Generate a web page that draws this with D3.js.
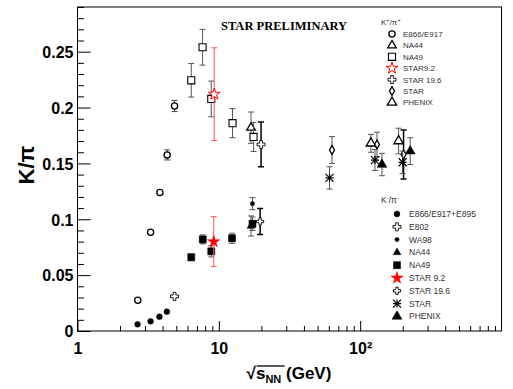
<!DOCTYPE html>
<html>
<head>
<meta charset="utf-8">
<script src="https://cdn.jsdelivr.net/npm/d3@7"></script>
<style>
body { margin: 0; background: #fff; }
svg { display: block; font-family: "Liberation Sans", Arial, sans-serif; }
</style>
</head>
<body>
<svg id="chart" width="513" height="389"></svg>
<script>
// values: [sqrt(sNN) GeV, ratio, error]
// K+/pi+
var kpE866 = [[2.67, 0.0275, 0], [3.29, 0.0884, 0], [3.83, 0.124, 0], [4.31, 0.1576, 0.0045], [4.86, 0.2014, 0.005]];
var kpNA44 = [[16.9, 0.182, 0.014]];
var kpNA49 = [[6.38, 0.2244, 0.015], [7.67, 0.254, 0.016], [8.84, 0.2077, 0.016], [12.5, 0.186, 0.013], [17.6, 0.1737, 0.013]];
var kpStar92 = [[9.28, 0.212, 0.0415]];
var kpStar196 = [[19.9, 0.167, 0.020]];
var kpStar = [[63.2, 0.162, 0.012], [131.5, 0.167, 0.011], [202.8, 0.158, 0.022]];
var kpPhenix = [[119.2, 0.168, 0.008], [187, 0.170, 0.0115]];
// K-/pi-
var kmE866 = [[2.66, 0.006, 0], [3.29, 0.0087, 0], [3.80, 0.0128, 0], [4.29, 0.0173, 0]];
var kmE802 = [[4.86, 0.031, 0]];
var kmWA98 = [[17.3, 0.114, 0.0054]];
var kmNA44 = [[16.9, 0.094, 0.009]];
var kmNA49 = [[6.38, 0.066, 0.003], [7.7, 0.082, 0.004], [8.84, 0.0713, 0.005], [12.4, 0.083, 0.0045], [17.3, 0.096, 0.006]];
var kmStar92 = [[9.2, 0.080, 0.0224]];
var kmStar196 = [[19.6, 0.098, 0.0116]];
var kmStar = [[60.7, 0.137, 0.010], [127.3, 0.153, 0.0093], [199.6, 0.151, 0.010]];
var kmPhenix = [[142.6, 0.149, 0.010], [226, 0.161, 0.012]];

var kpLabels = ["E866/E917", "NA44", "NA49", "STAR9.2", "STAR 19.6", "STAR", "PHENIX"];
var kmLabels = ["E866/E917+E895", "E802", "WA98", "NA44", "NA49", "STAR 9.2", "STAR 19.6", "STAR", "PHENIX"];

var xMajor = [1, 10, 100];
var xMajorLabels = ["1", "10", "10\u00b2"];
var yMajor = [0, 0.05, 0.1, 0.15, 0.2, 0.25];
var yMajorLabels = ["0", "0.05", "0.1", "0.15", "0.2", "0.25"];

var svg = d3.select("#chart");
var x = d3.scaleLog().domain([1, 1000]).range([77.5, 501.5]);
var y = d3.scaleLinear().domain([0, 0.29]).range([331, 7]);

// series table: marker style + error bar colour
var kpSeries = [
    {data: kpE866, m: "ocircle", c: "#000", e: "#444"},
    {data: kpNA44, m: "otri", c: "#000", e: "#555"},
    {data: kpNA49, m: "osquare", c: "#000", e: "#555"},
    {data: kpStar92, m: "ostar", c: "#f00", e: "#f55"},
    {data: kpStar196, m: "ocross", c: "#000", e: "#000", w: 1.5},
    {data: kpStar, m: "odiamond", c: "#000", e: "#555"},
    {data: kpPhenix, m: "obtri", c: "#000", e: "#555"}
];
var kmSeries = [
    {data: kmE866, m: "fcircle", c: "#000", e: "#444"},
    {data: kmE802, m: "ocross", c: "#000", e: "#555"},
    {data: kmWA98, m: "scircle", c: "#000", e: "#555"},
    {data: kmNA44, m: "ftri", c: "#000", e: "#555"},
    {data: kmNA49, m: "fsquare", c: "#000", e: "#555"},
    {data: kmStar92, m: "fstar", c: "#f00", e: "#f55"},
    {data: kmStar196, m: "scross", c: "#000", e: "#000", w: 1.5},
    {data: kmStar, m: "aster", c: "#000", e: "#555"},
    {data: kmPhenix, m: "fbtri", c: "#000", e: "#555"}
];
// the big STAR 200 GeV bar is drawn black and thicker
kpSeries[5].thick = [false, false, true];

function drawMarker(g, type, cx, cy, col) {
    var sym = null, size = 0, open = type.charAt(0) == "o", sw = 1.3;
    if (type == "ocircle") { sym = d3.symbolCircle; size = 30; }
    if (type == "fcircle") { sym = d3.symbolCircle; size = 26; }
    if (type == "scircle") { sym = d3.symbolCircle; size = 14; }
    if (type == "osquare") { sym = d3.symbolSquare; size = 50; sw = 1.1; }
    if (type == "fsquare") { sym = d3.symbolSquare; size = 50; }
    if (type == "otri") { sym = d3.symbolTriangle; size = 32; }
    if (type == "obtri") { sym = d3.symbolTriangle; size = 38; }
    if (type == "ftri") { sym = d3.symbolTriangle; size = 26; }
    if (type == "fbtri") { sym = d3.symbolTriangle; size = 42; }
    if (type == "ostar") { sym = d3.symbolStar; size = 42; sw = 1; }
    if (type == "fstar") { sym = d3.symbolStar; size = 46; }
    if (type == "ocross") { sym = d3.symbolCross; size = 36; sw = 0.9; }
    if (type == "scross") { sym = d3.symbolCross; size = 28; open = true; sw = 0.9; }
    if (type == "odiamond") { sym = d3.symbolDiamond; size = 22; }
    if (type == "aster") {
        var r = 4;
        g.append("path")
            .attr("d", "M" + (cx - r) + "," + cy + "H" + (cx + r) +
                "M" + (cx - r) + "," + (cy - r) + "L" + (cx + r) + "," + (cy + r) +
                "M" + (cx - r) + "," + (cy + r) + "L" + (cx + r) + "," + (cy - r) +
                "M" + cx + "," + (cy - r) + "V" + (cy + r))
            .attr("stroke", col).attr("stroke-width", 1.2).attr("fill", "none");
        return;
    }
    g.append("path")
        .attr("d", d3.symbol().type(sym).size(size)())
        .attr("transform", "translate(" + cx + "," + cy + ")")
        .attr("fill", open ? "#fff" : col)
        .attr("stroke", col)
        .attr("stroke-width", open ? sw : 0.5);
}

function drawSeries(s) {
    var g = svg.append("g");
    s.data.forEach(function(d, i) {
        var px = x(d[0]);
        if (d[2] > 0) {
            var big = s.thick && s.thick[i];
            var col = big ? "#000" : s.e;
            var w = big ? 1.5 : (s.w || 1);
            var y1 = y(d[1] + d[2]), y2 = y(d[1] - d[2]);
            g.append("path")
                .attr("d", "M" + px + "," + y1 + "V" + y2 +
                    "M" + (px - 3) + "," + y1 + "H" + (px + 3) +
                    "M" + (px - 3) + "," + y2 + "H" + (px + 3))
                .attr("stroke", col).attr("stroke-width", w).attr("fill", "none");
        }
    });
    s.data.forEach(function(d) {
        drawMarker(g, s.m, x(d[0]), y(d[1]), s.c);
    });
}

// axes: minor ticks, then majors with labels
var xMinor = [];
[1, 10, 100].forEach(function(dec) {
    for (var k = 2; k <= 9; k++) xMinor.push(dec * k);
});
var yMinor = d3.range(0, 0.2901, 0.01).filter(function(v) {
    return Math.abs(v / 0.05 - Math.round(v / 0.05)) > 1e-6;
});

var xAxisG = svg.append("g").attr("transform", "translate(0,331)");
xAxisG.append("g").call(d3.axisBottom(x).tickValues(xMinor).tickSize(-5).tickFormat(""));
xAxisG.append("g").call(d3.axisBottom(x).tickValues(xMajor).tickSize(-10).tickSizeOuter(0)
    .tickPadding(12).tickFormat(function(d, i) { return xMajorLabels[i]; }));

var yAxisG = svg.append("g").attr("transform", "translate(77.5,0)");
yAxisG.append("g").call(d3.axisLeft(y).tickValues(yMinor).tickSize(-6.5).tickFormat(""));
yAxisG.append("g").call(d3.axisLeft(y).tickValues(yMajor).tickSize(-13).tickSizeOuter(0)
    .tickPadding(4).tickFormat(function(d, i) { return yMajorLabels[i]; }));

svg.selectAll(".domain").remove();
svg.selectAll(".tick line").attr("stroke", "#000");
svg.selectAll(".tick text")
    .attr("font-family", "'Liberation Sans', Arial, sans-serif")
    .attr("font-size", 16).attr("font-weight", "bold").attr("fill", "#000");
yAxisG.selectAll(".tick text").attr("dy", "0.36em");

// frame
svg.append("rect")
    .attr("x", x(1)).attr("y", y(0.29))
    .attr("width", x(1000) - x(1)).attr("height", y(0) - y(0.29))
    .attr("fill", "none").attr("stroke", "#000").attr("stroke-width", 1);

kpSeries.forEach(drawSeries);
kmSeries.forEach(drawSeries);

// axis titles
var xt = svg.append("g").attr("font-weight", "bold").attr("font-size", 17);
var xTitle = xt.append("text").attr("x", 289).attr("y", 379).attr("text-anchor", "middle");
xTitle.append("tspan").text("\u221a");
xTitle.append("tspan").text("s");
xTitle.append("tspan").attr("font-size", 11).attr("dy", 4).text("NN");
xTitle.append("tspan").attr("dy", -4).text(" (GeV)");
var bb = xTitle.node().getBBox();
xt.append("line")
    .attr("x1", bb.x + 10).attr("x2", bb.x + 38)
    .attr("y1", bb.y + 2).attr("y2", bb.y + 2)
    .attr("stroke", "#000").attr("stroke-width", 1.3);

svg.append("text")
    .attr("transform", "translate(34,165) rotate(-90)")
    .attr("text-anchor", "middle")
    .attr("font-size", 22).attr("font-weight", "bold")
    .text("K/\u03c0");

svg.append("text")
    .attr("x", 221).attr("y", 30)
    .attr("font-family", "'Liberation Serif', 'Times New Roman', serif")
    .attr("font-size", 12.5).attr("font-weight", "bold")
    .text("STAR PRELIMINARY");

// legends
function drawLegend(header, labels, series, mx, tx, y0, dy, hy, fs) {
    var g = svg.append("g").attr("font-size", fs).attr("fill", "#333");
    var h = g.append("text").attr("x", 381).attr("y", hy + 3);
    h.append("tspan").text(header[0]);
    h.append("tspan").attr("font-size", fs * 0.7).attr("dy", -3).text(header[1]);
    h.append("tspan").attr("dy", 3).text(header[2]);
    h.append("tspan").attr("font-size", fs * 0.7).attr("dy", -3).text(header[3]);
    labels.forEach(function(lab, i) {
        var yy = y0 + i * dy;
        drawMarker(g, series[i].m, mx, yy, series[i].c);
        g.append("text").attr("x", tx).attr("y", yy + 3).text(lab);
    });
}
drawLegend(["K", "+", "/\u03c0", "+"], kpLabels, kpSeries, 392, 403, 34, 11.4, 22, 8);
drawLegend(["K", "-", "/\u03c0", "-"], kmLabels, kmSeries, 397, 409, 214, 12.8, 200, 8.5);
</script>
</body>
</html>
